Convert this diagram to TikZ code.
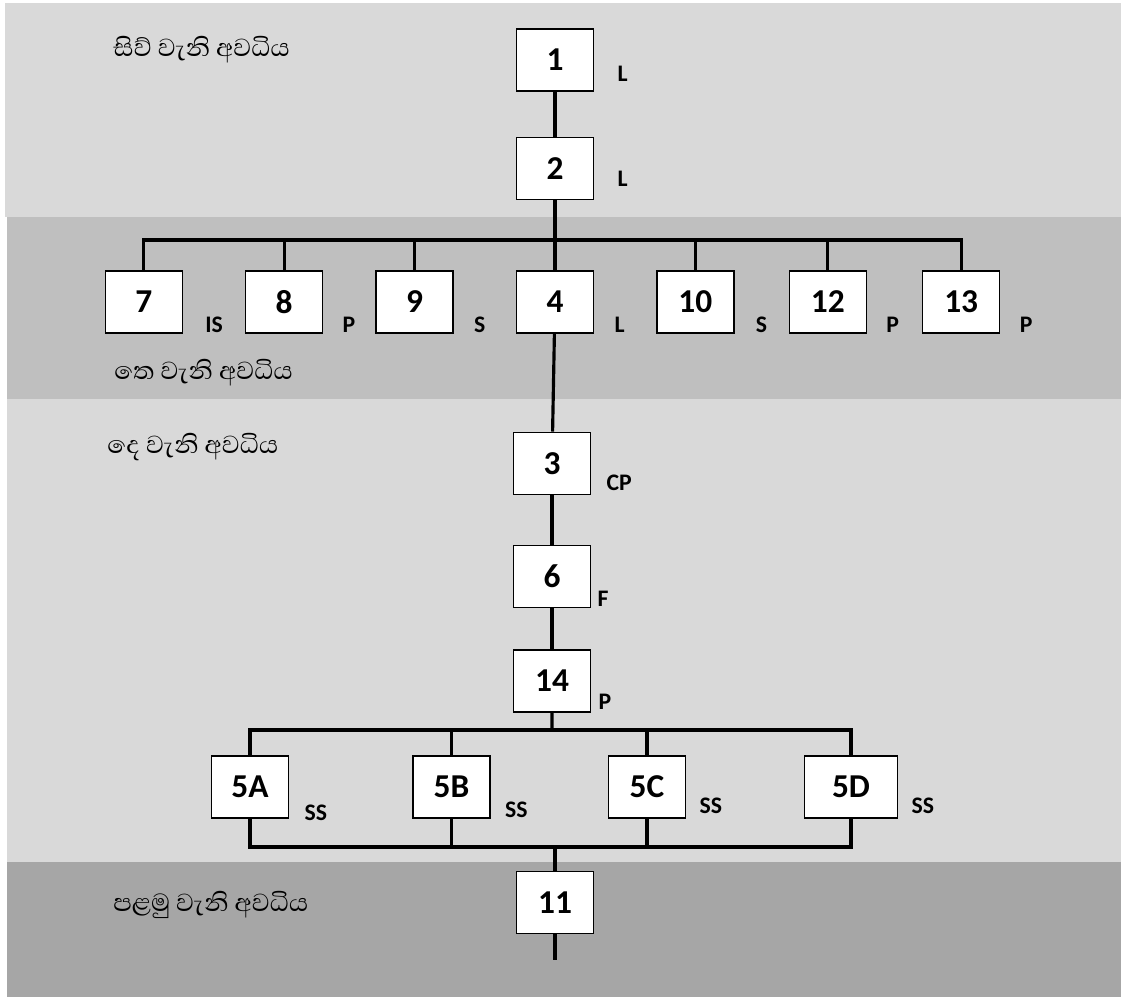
\documentclass[tikz,border=0pt]{standalone}
\usepackage{fontspec}
\usepackage{tikz}
\usetikzlibrary{positioning}
\newfontfamily\numfont{Carlito}
\newfontfamily\sinfont[Script=Sinhala]{Abhaya Libre}
\definecolor{bandLight}{RGB}{217,217,217}
\definecolor{bandMid}{RGB}{191,191,191}
\definecolor{bandDark}{RGB}{166,166,166}
\tikzset{
  stepbox/.style={rectangle,draw=black,line width=0.8pt,fill=white,
                  minimum width=1.54cm,minimum height=1.24cm,inner sep=0pt,
                  font=\numfont\bfseries\fontsize{19}{22}\selectfont},
  tag/.style={inner sep=0pt,font=\numfont\bfseries\fontsize{13.5}{16}\selectfont},
  stage/.style={anchor=west,inner sep=0pt,font=\sinfont\fontsize{18}{21}\selectfont},
  wire/.style={line width=1.8pt}
}
\begin{document}
\begin{tikzpicture}[node distance=0.9cm]
  \useasboundingbox (0,0) rectangle (22.42,-19.94);
  % stage bands
  \fill[bandLight] (0.10,-0.06) rectangle (22.42,-4.34);
  \fill[bandMid] (0.14,-4.34) rectangle (22.42,-7.98);
  \fill[bandLight] (0.14,-7.98) rectangle (22.42,-17.24);
  \fill[bandDark] (0.14,-17.24) rectangle (22.42,-19.94);

  \node[stage] (s4) at (2.26,-1.00) {සිව් වැනි අවධිය};
  \node[stage] (s3) at (2.28,-7.46) {තෙ වැනි අවධිය};
  \node[stage] (s2) at (2.14,-8.94) {දෙ වැනි අවධිය};
  \node[stage] (s1) at (2.26,-18.10) {පළමු වැනි අවධිය};

  % top chain and branch row
  \node[stepbox] (b1) at (11.10,-1.20) {1};
  \node[stepbox, below=0.9cm of b1] (b2) {2};
  \node[stepbox, below=1.4cm of b2] (b4) {4};
  \node[stepbox, left=1.24cm of b4] (b9) {9};
  \node[stepbox, left=1.04cm of b9] (b8) {8};
  \node[stepbox, left=1.24cm of b8] (b7) {7};
  \node[stepbox, right=1.24cm of b4] (b10) {10};
  \node[stepbox, right=1.08cm of b10] (b12) {12};
  \node[stepbox, right=1.10cm of b12] (b13) {13};

  % middle chain
  \node[stepbox, below=1.96cm of b4, xshift=-0.06cm] (b3) {3};
  \node[stepbox, below=1.0cm of b3] (b6) {6};
  \node[stepbox, below=0.82cm of b6] (b14) {14};

  % parallel boxes and last box
  \node[stepbox] (b5a) at (5.00,-15.74) {5A};
  \node[stepbox] (b5b) at (9.03,-15.74) {5B};
  \node[stepbox] (b5c) at (12.94,-15.74) {5C};
  \node[stepbox, minimum width=1.86cm] (b5d) at (17.02,-15.74) {5D};
  \node[stepbox] (b11) at (11.10,-18.05) {11};

  % letter tags
  \node[tag, right=0.46cm of b1.south east, yshift=0.36cm] (t1) {L};
  \node[tag, right=0.46cm of b2.south east, yshift=0.42cm] (t2) {L};
  \node[tag, right=0.44cm of b7.south east, yshift=0.18cm] (t7) {IS};
  \node[tag, right=0.38cm of b8.south east, yshift=0.18cm] (t8) {P};
  \node[tag, right=0.40cm of b9.south east, yshift=0.18cm] (t9) {S};
  \node[tag, right=0.40cm of b4.south east, yshift=0.18cm] (t4) {L};
  \node[tag, right=0.42cm of b10.south east, yshift=0.18cm] (t10) {S};
  \node[tag, right=0.38cm of b12.south east, yshift=0.18cm] (t12) {P};
  \node[tag, right=0.38cm of b13.south east, yshift=0.18cm] (t13) {P};
  \node[tag, right=0.30cm of b3.south east, yshift=0.24cm] (t3) {CP};
  \node[tag, right=0.12cm of b6.south east, yshift=0.20cm] (t6) {F};
  \node[tag, right=0.14cm of b14.south east, yshift=0.22cm] (t14) {P};
  \node[tag, right=0.30cm of b5a.south east, yshift=0.12cm] (t5a) {SS};
  \node[tag, right=0.28cm of b5b.south east, yshift=0.18cm] (t5b) {SS};
  \node[tag, right=0.26cm of b5c.south east, yshift=0.26cm] (t5c) {SS};
  \node[tag, right=0.26cm of b5d.south east, yshift=0.26cm] (t5d) {SS};

  \coordinate (busA) at (11.10,-4.80);
  \coordinate (busB) at (11.04,-14.60);
  \coordinate (busC) at (11.10,-16.94);
  \coordinate (tail) at (11.10,-19.20);

  \draw[wire] (b1) -- (b2);
  \draw[wire] (b2) -- (b4);
  \draw[wire] (b7.north) |- (busA) -| (b13.north);
  \draw[wire] (b8.north) -- (b8.north |- busA);
  \draw[wire] (b9.north) -- (b9.north |- busA);
  \draw[wire] (b10.north) -- (b10.north |- busA);
  \draw[wire] (b12.north) -- (b12.north |- busA);
  \draw[wire] (b4) -- (b3);
  \draw[wire] (b3) -- (b6);
  \draw[wire] (b6) -- (b14);
  \draw[wire] (b14) -- (busB);
  \draw[wire] (b5a.north) |- (busB) -| (b5d.north);
  \draw[wire] (b5b.north) -- (b5b.north |- busB);
  \draw[wire] (b5c.north) -- (b5c.north |- busB);
  \draw[wire] (b5a.south) |- (busC) -| (b5d.south);
  \draw[wire] (b5b.south) -- (b5b.south |- busC);
  \draw[wire] (b5c.south) -- (b5c.south |- busC);
  \draw[wire] (busC) -- (b11);
  \draw[wire] (b11) -- (tail);
\end{tikzpicture}
\end{document}
